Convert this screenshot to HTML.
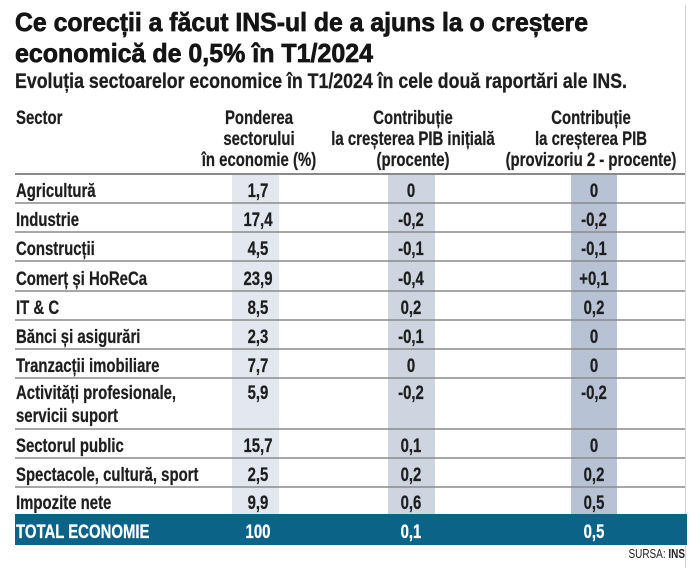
<!DOCTYPE html>
<html><head><meta charset="utf-8"><style>
html,body{margin:0;padding:0;background:#fff;}
svg{display:block;}
text{font-family:"Liberation Sans",Arial,sans-serif;}
</style></head><body>
<svg width="699" height="568" viewBox="0 0 699 568" xmlns="http://www.w3.org/2000/svg">
<rect x="0" y="0" width="699" height="568" fill="#fff"/>
<!-- right border -->
<line x1="685.5" y1="5" x2="685.5" y2="568" stroke="#d2d2d2" stroke-width="1"/>
<!-- Title -->
<text x="15" y="31" font-size="26" font-weight="bold" fill="#141414" stroke="#141414" stroke-width="0.7" textLength="573" lengthAdjust="spacingAndGlyphs">Ce corecții a făcut INS-ul de a ajuns la o creștere</text>
<text x="15" y="62" font-size="26" font-weight="bold" fill="#141414" stroke="#141414" stroke-width="0.7" textLength="358" lengthAdjust="spacingAndGlyphs">economică de 0,5% în T1/2024</text>
<text x="15" y="88" font-size="21" font-weight="bold" fill="#1e1e1e" stroke="#1e1e1e" stroke-width="0.3" textLength="612" lengthAdjust="spacingAndGlyphs">Evoluția sectoarelor economice în T1/2024 în cele două raportări ale INS.</text>

<!-- shaded columns -->
<rect x="232" y="175" width="47" height="339" fill="#e3e8f0"/>
<rect x="388" y="175" width="47" height="339" fill="#ced5e1"/>
<rect x="571" y="175" width="46" height="339" fill="#b7c3d5"/>

<!-- lines -->
<g stroke="#8a8a8a" stroke-width="1.6">
<line x1="15" y1="174" x2="685" y2="174" stroke-width="2"/>
<line x1="15" y1="203" x2="685" y2="203"/>
<line x1="15" y1="232" x2="685" y2="232"/>
<line x1="15" y1="261" x2="685" y2="261"/>
<line x1="15" y1="291" x2="685" y2="291"/>
<line x1="15" y1="320" x2="685" y2="320"/>
<line x1="15" y1="349" x2="685" y2="349"/>
<line x1="15" y1="378" x2="685" y2="378"/>
<line x1="15" y1="429" x2="685" y2="429"/>
<line x1="15" y1="458" x2="685" y2="458"/>
<line x1="15" y1="487" x2="685" y2="487"/>
</g>

<!-- total bar -->
<rect x="15" y="514" width="672" height="31" fill="#0b6388"/>

<g transform="scale(0.786,1)" font-weight="bold" font-size="19" fill="#1e1e1e" stroke="#1e1e1e" stroke-width="0.25">
<!-- headers -->
<text x="20.36" y="124">Sector</text>
<g text-anchor="middle">
<text x="329.52" y="124">Ponderea</text>
<text x="329.52" y="145">sectorului</text>
<text x="329.52" y="166">în economie (%)</text>
<text x="525.45" y="124">Contribuție</text>
<text x="525.45" y="145">la creșterea PIB inițială</text>
<text x="525.45" y="166">(procente)</text>
<text x="751.91" y="124">Contribuție</text>
<text x="751.91" y="145">la creșterea PIB</text>
<text x="751.91" y="166">(provizoriu 2 - procente)</text>
</g>

<!-- labels -->
<text x="20.36" y="197">Agricultură</text>
<text x="20.36" y="226">Industrie</text>
<text x="20.36" y="255">Construcții</text>
<text x="20.36" y="285">Comerț și HoReCa</text>
<text x="20.36" y="314">IT &amp; C</text>
<text x="20.36" y="343">Bănci și asigurări</text>
<text x="20.36" y="372">Tranzacții imobiliare</text>
<text x="20.36" y="399">Activități profesionale,</text>
<text x="20.36" y="422">servicii suport</text>
<text x="20.36" y="452">Sectorul public</text>
<text x="20.36" y="481">Spectacole, cultură, sport</text>
<text x="20.36" y="509">Impozite nete</text>

<g text-anchor="middle">
<text x="328.24" y="197">1,7</text><text x="522.9" y="197">0</text><text x="755.73" y="197">0</text>
<text x="328.24" y="226">17,4</text><text x="522.9" y="226">-0,2</text><text x="755.73" y="226">-0,2</text>
<text x="328.24" y="255">4,5</text><text x="522.9" y="255">-0,1</text><text x="755.73" y="255">-0,1</text>
<text x="328.24" y="285">23,9</text><text x="522.9" y="285">-0,4</text><text x="755.73" y="285">+0,1</text>
<text x="328.24" y="314">8,5</text><text x="522.9" y="314">0,2</text><text x="755.73" y="314">0,2</text>
<text x="328.24" y="343">2,3</text><text x="522.9" y="343">-0,1</text><text x="755.73" y="343">0</text>
<text x="328.24" y="372">7,7</text><text x="522.9" y="372">0</text><text x="755.73" y="372">0</text>
<text x="328.24" y="399">5,9</text><text x="522.9" y="399">-0,2</text><text x="755.73" y="399">-0,2</text>
<text x="328.24" y="452">15,7</text><text x="522.9" y="452">0,1</text><text x="755.73" y="452">0</text>
<text x="328.24" y="481">2,5</text><text x="522.9" y="481">0,2</text><text x="755.73" y="481">0,2</text>
<text x="328.24" y="509">9,9</text><text x="522.9" y="509">0,6</text><text x="755.73" y="509">0,5</text>
</g>

<!-- total -->
<g fill="#ffffff" stroke="#ffffff">
<text x="20.36" y="538">TOTAL ECONOMIE</text>
<g text-anchor="middle">
<text x="328.24" y="538">100</text>
<text x="522.9" y="538">0,1</text>
<text x="755.73" y="538">0,5</text>
</g>
</g>

<!-- source -->
<text x="871.5" y="558" font-size="12.7" font-weight="normal" stroke="none" text-anchor="end" fill="#222">SURSA: <tspan font-weight="bold">INS</tspan></text>
</g>
</svg>
</body></html>
